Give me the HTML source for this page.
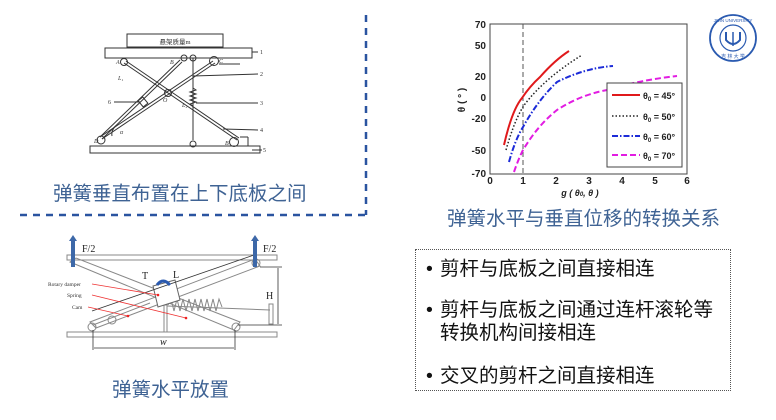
<!DOCTYPE html>
<html><head><meta charset="utf-8">
<style>
html,body{margin:0;padding:0;background:#fff;}
body{width:776px;height:420px;position:relative;overflow:hidden;font-family:"Liberation Sans","Noto Sans CJK SC",sans-serif;}
.cap{position:absolute;color:#3f6394;font-size:19.5px;white-space:nowrap;font-family:"Liberation Sans","Noto Sans CJK SC",sans-serif;}
.box{position:absolute;left:415px;top:249px;width:314px;height:140px;border:1px dotted #555;}
.li{position:absolute;left:18px;font-size:19.5px;color:#111;line-height:24px;white-space:nowrap;}
.li:before{content:"•";position:absolute;left:-14px;}
</style></head><body>
<svg width="776" height="420" style="position:absolute;left:0;top:0" font-family="Liberation Serif, serif">
<line x1="366" y1="15" x2="366" y2="215" stroke="#2a54a0" stroke-width="2.5" stroke-dasharray="7,6"/>
<line x1="20" y1="215" x2="366" y2="215" stroke="#2a54a0" stroke-width="2.5" stroke-dasharray="7,6"/>

<g stroke="#333" stroke-width="1" fill="none">
<rect x="127" y="34" width="96" height="13"/>
<rect x="105" y="48" width="147" height="10"/>
<rect x="90" y="146" width="170" height="7"/>
<line x1="124" y1="63" x2="237" y2="140"/>
<line x1="126" y1="61" x2="239" y2="138"/>
<line x1="100" y1="137" x2="180" y2="60"/>
<line x1="102" y1="139" x2="182" y2="62"/>
<line x1="100" y1="137" x2="213" y2="61"/>
<line x1="102" y1="139" x2="215" y2="63"/>
<line x1="193" y1="58" x2="193" y2="140"/>
<circle cx="124" cy="62" r="3.5"/><circle cx="184" cy="58" r="3"/><circle cx="193" cy="58" r="3"/>
<circle cx="214" cy="61" r="4.5"/><circle cx="168" cy="93" r="3.5"/>
<circle cx="101" cy="140" r="4"/><circle cx="193" cy="144" r="3"/><circle cx="234" cy="142" r="4.5"/>
<rect x="140" y="98" width="6" height="8" transform="rotate(-40 143 102)"/>
<path d="M193 88 l3 2 -6 2 6 2 -6 2 6 2 -6 2 6 2 -6 2 3 2"/>
<line x1="240" y1="137" x2="248" y2="137"/><line x1="248" y1="137" x2="248" y2="146"/>
<line x1="219" y1="64" x2="240" y2="64"/>
<line x1="252" y1="52" x2="258" y2="52"/><line x1="193" y1="76" x2="258" y2="74"/>
<line x1="196" y1="103" x2="258" y2="103"/><line x1="223" y1="129" x2="258" y2="130"/>
<line x1="252" y1="150" x2="262" y2="150"/><line x1="114" y1="102" x2="140" y2="102"/>
<path d="M112 136 a10 10 0 0 1 4 -10"/>
</g>
<g font-size="6" fill="#333" font-style="italic">
<text x="116" y="64">A</text><text x="170" y="64">B</text><text x="219" y="63">C</text>
<text x="94" y="143">D</text><text x="225" y="145">B</text><text x="163" y="102">O</text>
<text x="118" y="80">L₁</text><text x="182" y="107">L₂</text><text x="120" y="134">α</text>
</g>
<text x="175" y="44" font-size="6.5" fill="#333" text-anchor="middle">悬架质量m</text>
<g font-size="6" fill="#333"><text x="260" y="54">1</text><text x="260" y="76">2</text><text x="260" y="105">3</text><text x="260" y="132">4</text><text x="263" y="152">5</text><text x="108" y="104">6</text></g>

<rect x="490" y="24" width="197" height="150" fill="none" stroke="#444" stroke-width="1"/>
<line x1="523" y1="24" x2="523" y2="174" stroke="#555" stroke-dasharray="5,3"/>
<g font-family="Liberation Sans, sans-serif" font-size="10" font-weight="bold" fill="#222" text-anchor="end">
<text x="486" y="28">70</text><text x="486" y="49">50</text><text x="486" y="80">20</text><text x="486" y="101">0</text><text x="486" y="122">-20</text><text x="486" y="154">-50</text><text x="486" y="177">-70</text>
</g>
<g font-family="Liberation Sans, sans-serif" font-size="10" font-weight="bold" fill="#222" text-anchor="middle">
<text x="490" y="184">0</text><text x="523" y="184">1</text><text x="556" y="184">2</text><text x="589" y="184">3</text><text x="622" y="184">4</text><text x="655" y="184">5</text><text x="687" y="184">6</text>
<text x="580" y="196" font-size="9" font-style="italic">g ( θ<tspan font-size="6">0</tspan>, θ )</text>
<text transform="translate(465 100) rotate(-90)" font-size="10">θ ( ° )</text>
</g>
<path d="M504 145 Q512 110 522 98 Q530 86 540 77 Q555 60 569 51" fill="none" stroke="#e0191b" stroke-width="2"/>
<path d="M506 150 Q515 118 525 104 Q545 78 582 55" fill="none" stroke="#222" stroke-width="1.5" stroke-dasharray="1.5,2"/>
<path d="M509 162 Q515 140 523 127 Q538 100 557 82 Q585 68 613 66" fill="none" stroke="#1c2bd8" stroke-width="2" stroke-dasharray="6,2,1.5,2"/>
<path d="M514 172 Q518 160 523 150 Q538 125 557 110 Q580 95 607 90 Q640 80 677 76" fill="none" stroke="#e21ce2" stroke-width="2" stroke-dasharray="6,3"/>
<rect x="607" y="83" width="75" height="84" fill="#fff" stroke="#444"/>
<line x1="612" y1="95" x2="640" y2="95" stroke="#e0191b" stroke-width="2"/>
<line x1="612" y1="116" x2="640" y2="116" stroke="#222" stroke-width="1.5" stroke-dasharray="1.5,2"/>
<line x1="612" y1="136" x2="640" y2="136" stroke="#1c2bd8" stroke-width="2" stroke-dasharray="6,2,1.5,2"/>
<line x1="612" y1="155" x2="640" y2="155" stroke="#e21ce2" stroke-width="2" stroke-dasharray="6,3"/>
<g font-family="Liberation Sans, sans-serif" font-size="9" font-weight="bold" fill="#222">
<text x="643" y="99">θ<tspan font-size="6" dy="2">0</tspan><tspan dy="-2"> = 45°</tspan></text>
<text x="643" y="120">θ<tspan font-size="6" dy="2">0</tspan><tspan dy="-2"> = 50°</tspan></text>
<text x="643" y="140">θ<tspan font-size="6" dy="2">0</tspan><tspan dy="-2"> = 60°</tspan></text>
<text x="643" y="159">θ<tspan font-size="6" dy="2">0</tspan><tspan dy="-2"> = 70°</tspan></text>
</g>

<g stroke="#2a5ab0" fill="none">
<circle cx="733" cy="38" r="23" stroke-width="1.8"/>
<circle cx="733" cy="38" r="13" stroke-width="1.2"/>
<path d="M726 32 v8 q7 8 14 0 v-8" stroke-width="2"/>
<line x1="733" y1="32" x2="733" y2="46" stroke-width="1.5"/>
</g>
<text x="733" y="22" font-size="4.5" fill="#2a5ab0" text-anchor="middle" font-family="Liberation Sans,sans-serif">JILIN UNIVERSITY</text>
<text x="733" y="58" font-size="5" fill="#2a5ab0" text-anchor="middle">吉 林 大 学</text>

<g stroke="#888" stroke-width="1" fill="none">
<rect x="67" y="255" width="210" height="5"/>
<rect x="67" y="332" width="210" height="5"/>
<polygon points="70,262 76,258 240,322 234,330"/>
<polygon points="90,322 96,328 260,266 255,259"/>
<line x1="93" y1="325" x2="150" y2="303"/>
<circle cx="112" cy="320" r="4"/><circle cx="92" cy="327" r="4"/>
<circle cx="236" cy="327" r="4"/><circle cx="256" cy="263" r="4"/>
<path d="M168 305 l3 -6 3 12 3 -12 3 12 3 -12 3 12 3 -12 3 12 3 -12 3 12 3 -12 3 12 3 -12 3 12 3 -12 3 12 3 -12 3 8"/>
<rect x="164" y="305" width="3" height="27"/>
<rect x="269" y="304" width="4" height="20"/>
<line x1="167" y1="306" x2="270" y2="310"/>
</g>
<polygon points="153,286 175,280 180,300 158,307" fill="#fff" stroke="#666"/>
<g stroke="#333" stroke-width="0.8" fill="none">
<line x1="92" y1="311" x2="254" y2="255"/>
<line x1="260" y1="267" x2="282" y2="267"/><line x1="238" y1="325" x2="282" y2="325"/>
<line x1="278" y1="268" x2="278" y2="324"/>
<line x1="93" y1="330" x2="93" y2="350"/><line x1="235" y1="330" x2="235" y2="350"/>
<line x1="94" y1="348" x2="234" y2="348"/>
</g>
<g stroke="#e33" stroke-width="0.8">
<line x1="92" y1="284" x2="158" y2="295"/><line x1="92" y1="295" x2="186" y2="318"/><line x1="88" y1="307" x2="128" y2="316"/>
</g>
<g fill="#e22"><circle cx="158" cy="295" r="1.3"/><circle cx="186" cy="318" r="1.3"/><circle cx="128" cy="316" r="1.3"/></g>
<g fill="#3d68a8">
<rect x="71" y="240" width="4" height="27"/><polygon points="69,241 73,235 77,241"/>
<rect x="253" y="240" width="4" height="27"/><polygon points="251,241 255,235 259,241"/>
</g>
<path d="M157 285 q6 -8 13 0" stroke="#2a5ab0" stroke-width="3" fill="none"/>
<g font-size="10" fill="#222">
<text x="82" y="252">F/2</text><text x="263" y="252">F/2</text>
<text x="142" y="279">T</text><text x="173" y="278">L</text>
<text x="266" y="299">H</text><text x="160" y="345" font-style="italic">w</text>
</g>
<g font-size="5.5" fill="#333"><text x="48" y="286">Rotary damper</text><text x="67" y="297">Spring</text><text x="72" y="309">Cam</text></g>
</svg>

<div class="cap" style="left:53px;top:177px;">弹簧垂直布置在上下底板之间</div>
<div class="cap" style="left:447px;top:202px;">弹簧水平与垂直位移的转换关系</div>
<div class="cap" style="left:112px;top:373px;">弹簧水平放置</div>

<div class="box">
<div class="li" style="left:24px;top:7px;">剪杆与底板之间直接相连</div>
<div class="li" style="left:24px;top:49px;line-height:23px;">剪杆与底板之间通过连杆滚轮等<br>转换机构间接相连</div>
<div class="li" style="left:24px;top:114px;">交叉的剪杆之间直接相连</div>
</div>
</body></html>
